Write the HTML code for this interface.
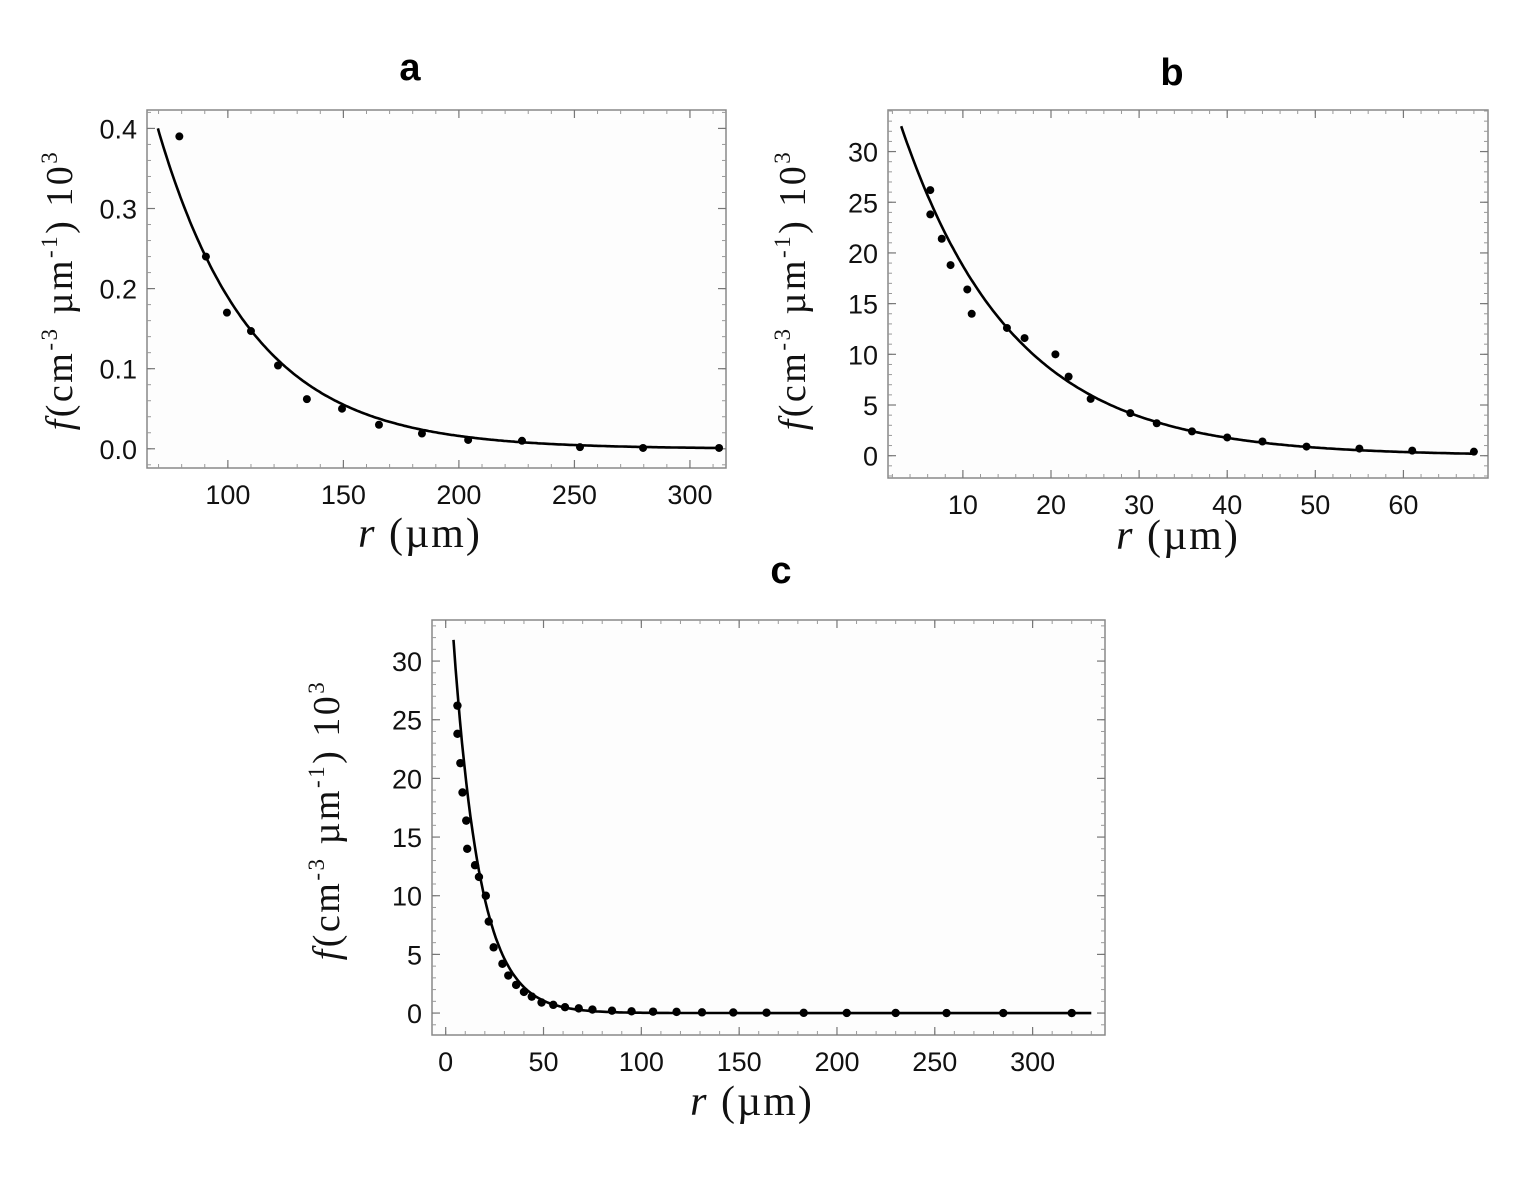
<!DOCTYPE html>
<html><head><meta charset="utf-8"><style>
html,body{margin:0;padding:0;background:#fff;}
svg{display:block;}
.tk{font-family:"Liberation Sans",sans-serif;font-size:27px;fill:#111;}
.ttl{font-family:"Liberation Sans",sans-serif;font-size:38px;font-weight:bold;fill:#000;}
.lab{font-family:"Liberation Serif",serif;fill:#111;}
</style></head><body>
<svg id="fig" width="1526" height="1179" xmlns="http://www.w3.org/2000/svg">
<text class="ttl" x="410" y="80" text-anchor="middle">a</text>
<text class="ttl" x="1172" y="85" text-anchor="middle">b</text>
<text class="ttl" x="781" y="583" text-anchor="middle">c</text>
<text class="lab" x="1175" y="249" text-anchor="middle" font-size="34" font-style="italic">n = 5</text>
</svg>
<script>
// Panel a data
const aR = [79,90.5,99.6,110,121.7,134.2,149.4,165.4,184,204,227.3,252.4,279.7,312.6];
const aF = [0.39,0.24,0.17,0.147,0.104,0.062,0.05,0.03,0.019,0.011,0.01,0.002,0.001,0.001];
const aFit = [0.40,69.7,40.5]; // amplitude, r0, decay length
const aXTicks = [100,150,200,250,300];
const aYTicks = [0,0.1,0.2,0.3,0.4];
const aYLabels = ["0.0","0.1","0.2","0.3","0.4"];
// Panel b data
const bR = [6.3,6.3,7.6,8.6,10.5,11,15,17,20.5,22,24.5,29,32,36,40,44,49,55,61,68];
const bF = [26.2,23.8,21.4,18.8,16.4,14,12.6,11.6,10,7.8,5.6,4.2,3.2,2.4,1.8,1.4,0.9,0.7,0.5,0.4];
const bFit = [32.5,3,12.7];
const bXTicks = [10,20,30,40,50,60];
const bYTicks = [0,5,10,15,20,25,30];
// Panel c data
const cR = [6,6,7.5,8.6,10.5,11,15,17,20.5,22,24.5,29,32,36,40,44,49,55,61,68,75,85,95,106,118,131,147,164,183,205,230,256,285,320];
const cF = [26.2,23.8,21.3,18.8,16.4,14,12.6,11.6,10,7.8,5.6,4.2,3.2,2.4,1.8,1.4,0.9,0.7,0.5,0.4,0.3,0.2,0.15,0.12,0.1,0.06,0.05,0.03,0.02,0.01,0.01,0,0,0];
const cFit = [31.8,4,13.5];
const cXTicks = [0,50,100,150,200,250,300];
const cYTicks = [0,5,10,15,20,25,30];

const NS="http://www.w3.org/2000/svg";
const svg=document.getElementById('fig');
function mk(tag,attrs,parent){const e=document.createElementNS(NS,tag);for(const k in attrs)e.setAttribute(k,attrs[k]);(parent||svg).appendChild(e);return e;}

function panel(id,box,dom,rng,R,F,fit,xt,yt,ylab,xMinor,yMinor,rEnd,ylabPos,xlabPos,dotR){
  const g=mk('g',{});
  
  
  const [L,T,Rt,B]=box;
  const xs=v=>L+(v-dom[0])/(dom[1]-dom[0])*(Rt-L);
  const ys=v=>B-(v-rng[0])/(rng[1]-rng[0])*(B-T);
  const fr=mk('rect',{x:L,y:T,width:Rt-L,height:B-T,fill:'#fdfdfd',stroke:'#888','stroke-width':1.5},g);
  
  
  for(let v=Math.ceil(dom[0]/xMinor)*xMinor;v<=dom[1];v+=xMinor){const x=xs(v);
    mk('line',{x1:x,x2:x,y1:B,y2:B-4,stroke:'#999','stroke-width':1},g);mk('line',{x1:x,x2:x,y1:T,y2:T+4,stroke:'#999','stroke-width':1},g);}
  for(let v=Math.ceil(rng[0]/yMinor)*yMinor;v<=rng[1];v+=yMinor){const y=ys(v);
    mk('line',{x1:L,x2:L+4,y1:y,y2:y,stroke:'#999','stroke-width':1},g);mk('line',{x1:Rt,x2:Rt-4,y1:y,y2:y,stroke:'#999','stroke-width':1},g);}
  xt.forEach(v=>{const x=xs(v);
    mk('line',{x1:x,x2:x,y1:B,y2:B-8,stroke:'#777','stroke-width':1.2},g);mk('line',{x1:x,x2:x,y1:T,y2:T+8,stroke:'#777','stroke-width':1.2},g);
    const t=mk('text',{x:x,y:B+36,'text-anchor':'middle',class:'tk'},g);t.textContent=v;
    
    });
  yt.forEach((v,i)=>{const y=ys(v);
    mk('line',{x1:L,x2:L+8,y1:y,y2:y,stroke:'#777','stroke-width':1.2},g);mk('line',{x1:Rt,x2:Rt-8,y1:y,y2:y,stroke:'#777','stroke-width':1.2},g);
    const t=mk('text',{x:L-10,y:y+10,'text-anchor':'end',class:'tk'},g);t.textContent=ylab?ylab[i]:v;
    
    });
  let d='';const r0=fit[1];
  for(let k=0;k<=300;k++){const r=r0+(rEnd-r0)*k/300;const f=fit[0]*Math.exp(-(r-r0)/fit[2]);d+=(k?'L':'M')+xs(r).toFixed(1)+','+ys(f).toFixed(1);}
  const p=mk('path',{d:d,fill:'none',stroke:'#000','stroke-width':2.6},g);
  
  
  R.forEach((r,i)=>{const c=mk('circle',{cx:xs(r),cy:ys(F[i]),r:dotR,fill:'#000'},g);
    
    });
  const yl=mk('text',{transform:`translate(${ylabPos[0]},${ylabPos[1]}) rotate(-90)`,'text-anchor':'middle',class:'lab','font-size':38,'letter-spacing':2.5},g);
  yl.innerHTML='<tspan font-style="italic">f</tspan>(cm<tspan font-size="23" dy="-15">-3</tspan><tspan dy="15"> µm</tspan><tspan font-size="23" dy="-15">-1</tspan><tspan dy="15">)  10</tspan><tspan font-size="23" dy="-15">3</tspan>';
  
  
  const xl=mk('text',{x:xlabPos[0],y:xlabPos[1],'text-anchor':'middle',class:'lab','font-size':42,'letter-spacing':2},g);
  xl.innerHTML='<tspan font-style="italic">r</tspan>  (µm)';
  
  
}
panel('a',[147,110,726,468],[65,315.6],[-0.024,0.423],aR,aF,aFit,aXTicks,aYTicks,aYLabels,10,0.02,314,[72,290],[420,547],4);
panel('b',[888,110,1488,478],[1.5,69.6],[-2.2,34.1],bR,bF,bFit,bXTicks,bYTicks,null,2,1,68,[805,290],[1178,549],4);
panel('c',[432,620,1105,1035],[-7,337],[-1.87,33.5],cR,cF,cFit,cXTicks,cYTicks,null,10,1,330,[339,820],[752,1115],4.2);
</script>
</body></html>
